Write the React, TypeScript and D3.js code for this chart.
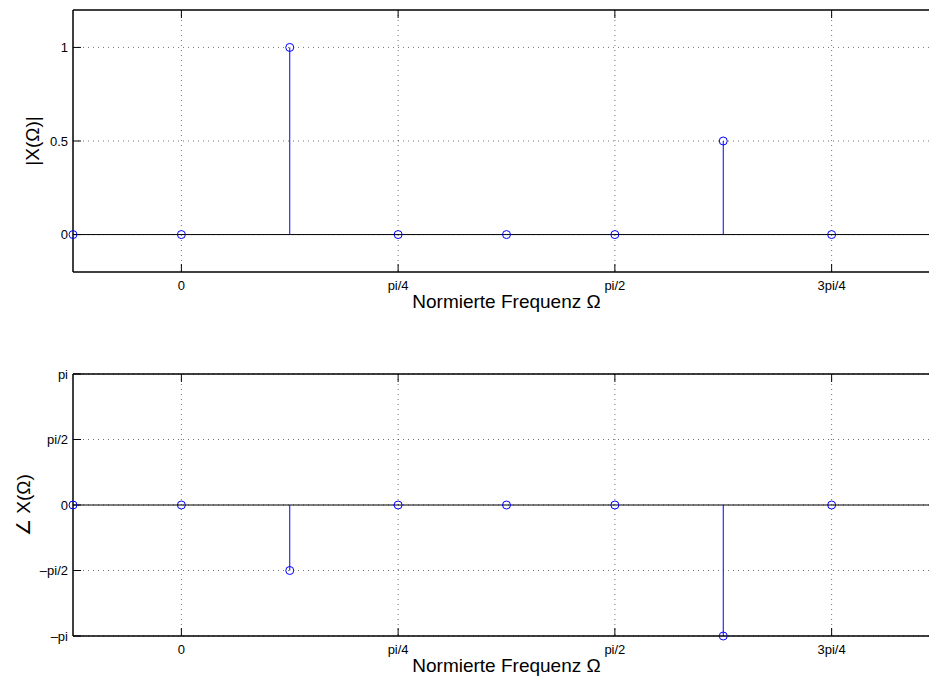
import React from "react"
import { scaleLinear } from "d3"

const width = 929;
const height = 677;
const PI = Math.PI;

// data: normierte Frequenz (rad), Betrag und Phase
const omega = [-PI / 8, 0, PI / 8, PI / 4, 3 * PI / 8, PI / 2, 5 * PI / 8, 3 * PI / 4];
const magnitude = [0, 0, 1, 0, 0, 0, 0.5, 0];
const phase = [0, 0, -PI / 2, 0, 0, 0, -PI, 0];

const xTicks = [0, PI / 4, PI / 2, 3 * PI / 4];
const xTickLabels = ["0", "pi/4", "pi/2", "3pi/4"];
const magTicks = [0, 0.5, 1];
const magTickLabels = ["0", "0.5", "1"];
const phaseTicks = [-PI, -PI / 2, 0, PI / 2, PI];
const phaseTickLabels = ["–pi", "–pi/2", "0", "pi/2", "pi"];

const left = 73;
const right = 940;
const tickLen = 8;
const font = "'Liberation Sans', Arial, Helvetica, sans-serif";
const blue = "#0000ff";

const x = scaleLinear().domain([-PI / 8, 7 * PI / 8]).range([left, right]);

const Panel = ({ top, bottom, yDomain, yTicks, yTickLabels, values, yLabel, yLabelX }) => {
  const y = scaleLinear().domain(yDomain).range([bottom, top]);
  const y0 = y(0);
  return (
    <g>
      {/* grid */}
      {xTicks.map((t, i) => (
        <line key={"gx" + i} x1={x(t)} x2={x(t)} y1={top} y2={bottom}
          stroke="#000" strokeOpacity={0.55} strokeDasharray="1 4" />
      ))}
      {yTicks.map((t, i) => (
        <line key={"gy" + i} x1={left} x2={right} y1={y(t)} y2={y(t)}
          stroke="#000" strokeOpacity={0.55} strokeDasharray="1 4" />
      ))}
      {/* baseline */}
      <line x1={left} x2={right} y1={y0} y2={y0} stroke="#000" strokeWidth={1} />
      {/* frame */}
      <line x1={left} x2={right} y1={top} y2={top} stroke="#000" strokeWidth={1.5} />
      <line x1={left} x2={right} y1={bottom} y2={bottom} stroke="#000" strokeWidth={1.5} />
      <line x1={left} x2={left} y1={top} y2={bottom} stroke="#000" strokeWidth={1.5} />
      {/* ticks */}
      {xTicks.map((t, i) => (
        <g key={"tx" + i}>
          <line x1={x(t)} x2={x(t)} y1={bottom} y2={bottom - tickLen} stroke="#000" />
          <line x1={x(t)} x2={x(t)} y1={top} y2={top + tickLen} stroke="#000" />
          <text x={x(t)} y={bottom + 18} textAnchor="middle" fontSize={13} fontFamily={font}>
            {xTickLabels[i]}
          </text>
        </g>
      ))}
      {yTicks.map((t, i) => (
        <g key={"ty" + i}>
          <line x1={left} x2={left + tickLen} y1={y(t)} y2={y(t)} stroke="#000" />
          <text x={left - 5} y={y(t)} dy="0.35em" textAnchor="end" fontSize={13} fontFamily={font}>
            {yTickLabels[i]}
          </text>
        </g>
      ))}
      {/* stems */}
      {values.map((v, i) => (
        <g key={"s" + i}>
          <line x1={x(omega[i])} x2={x(omega[i])} y1={y0} y2={y(v)} stroke={blue} strokeWidth={1} />
          <circle cx={x(omega[i])} cy={y(v)} r={4} fill="none" stroke={blue} strokeWidth={1} />
        </g>
      ))}
      {/* labels */}
      <text x={(left + right) / 2} y={bottom + 36} textAnchor="middle" fontSize={19} fontFamily={font}>
        Normierte Frequenz Ω
      </text>
      <text transform={`translate(${yLabelX},${(top + bottom) / 2}) rotate(-90)`} dy="0.35em"
        textAnchor="middle" fontSize={19} fontFamily={font}>
        {yLabel}
      </text>
    </g>
  );
};

const App = () => (
  <svg width={width} height={height} style={{ position: "absolute", left: 0, top: 0, background: "#fff" }}>
    <rect width={width} height={height} fill="#fff" />
    <Panel top={10} bottom={272} yDomain={[-0.2, 1.2]} yTicks={magTicks} yTickLabels={magTickLabels}
      values={magnitude} yLabel="|X(Ω)|" yLabelX={32} />
    <Panel top={374} bottom={636} yDomain={[-PI, PI]} yTicks={phaseTicks} yTickLabels={phaseTickLabels}
      values={phase} yLabel="∠ X(Ω)" yLabelX={23} />
  </svg>
);

export default App;
